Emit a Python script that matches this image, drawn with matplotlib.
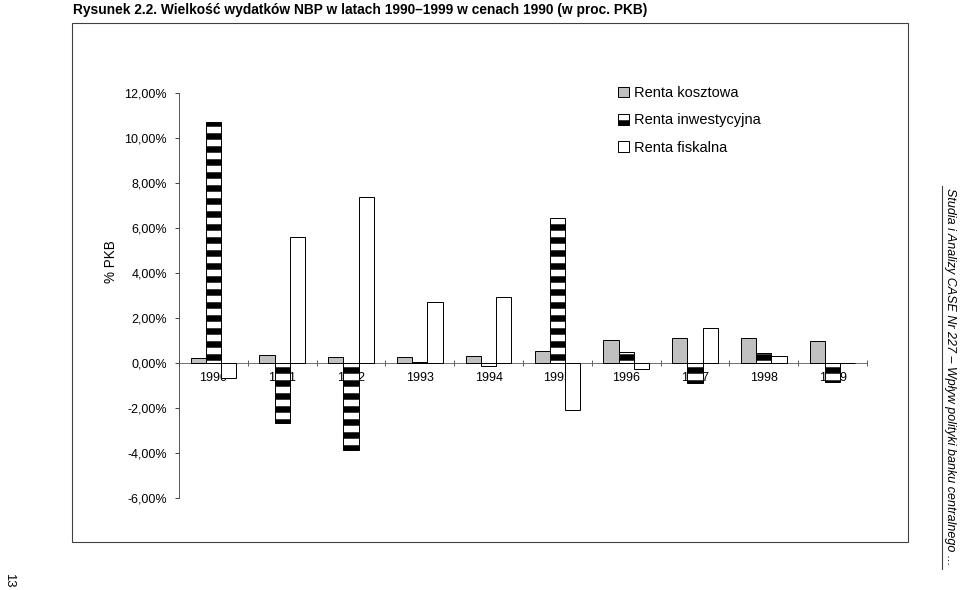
import matplotlib
matplotlib.use("Agg")
import matplotlib.pyplot as plt
from matplotlib import font_manager
from matplotlib.lines import Line2D
from matplotlib.patches import Rectangle
import numpy as np

# dane (% PKB)
lata = ["1990", "1991", "1992", "1993", "1994", "1995", "1996", "1997", "1998", "1999"]
renta_kosztowa = [0.22, 0.37, 0.28, 0.28, 0.32, 0.52, 1.04, 1.11, 1.11, 1.00]
renta_inwestycyjna = [10.69, -2.67, -3.85, 0.03, -0.15, 6.44, 0.49, -0.88, 0.44, -0.85]
renta_fiskalna = [-0.67, 5.58, 7.39, 2.69, 2.93, -2.08, -0.28, 1.56, 0.29, 0.0]
serie = ["Renta kosztowa", "Renta inwestycyjna", "Renta fiskalna"]
y_ticks = [-6, -4, -2, 0, 2, 4, 6, 8, 10, 12]

dostepne = {f.name for f in font_manager.fontManager.ttflist}
waski = "Liberation Sans Narrow" if "Liberation Sans Narrow" in dostepne else "Liberation Sans"

DPI = 78
plt.rcParams["font.family"] = ["Liberation Sans", "DejaVu Sans"]
plt.rcParams["hatch.linewidth"] = 6.0
plt.rcParams["hatch.color"] = "black"

fig = plt.figure(figsize=(960 / DPI, 590 / DPI), dpi=DPI)
ax = fig.add_axes([179 / 960, 1 - 498 / 590, (867 - 179) / 960, (498 - 93) / 590])

x = np.arange(len(lata)) + 0.5
w = 0.22
ax.bar(x - w, renta_kosztowa, w, color="#c0c0c0", edgecolor="black", linewidth=0.9, zorder=3)
ax.bar(x, renta_inwestycyjna, w, color="white", edgecolor="black", hatch="-", linewidth=0.9, zorder=3)
ax.bar(x + w, renta_fiskalna, w, color="white", edgecolor="black", linewidth=0.9, zorder=3)

ax.set_xlim(0, len(lata))
ax.set_ylim(-6, 12)
ax.spines["top"].set_visible(False)
ax.spines["right"].set_visible(False)
ax.spines["bottom"].set_position(("data", 0))
ax.spines["bottom"].set_color("#606060")
ax.spines["left"].set_color("#404040")
ax.patch.set_alpha(0)

ax.set_yticks(y_ticks)
ax.set_yticklabels([f"{v:.2f}%".replace(".", ",") for v in y_ticks], family=waski, fontsize=11.5)
ax.tick_params(axis="y", direction="out", length=4, width=0.9, color="#404040", pad=7)

ax.set_xticks(np.arange(len(lata) + 1))
ax.set_xticklabels([])
ax.tick_params(axis="x", which="major", direction="inout", length=5, width=0.9, color="#606060")
ax.set_xticks(x, minor=True)
ax.set_xticklabels(lata, minor=True, family=waski, fontsize=11.5)
ax.tick_params(axis="x", which="minor", length=0, pad=8)
for t in ax.get_xticklabels(minor=True):
    t.set_zorder(1)

fig.text(111 / 960, 1 - 262 / 590, "% PKB", rotation=90, ha="center", va="center", family=waski, fontsize=12.5)

# legenda
uchwyty = [Rectangle((0, 0), 1, 1, facecolor="#c0c0c0", edgecolor="black", linewidth=0.9),
           Rectangle((0, 0), 1, 1, facecolor="white", edgecolor="black", hatch="-", linewidth=0.9),
           Rectangle((0, 0), 1, 1, facecolor="white", edgecolor="black", linewidth=0.9)]
fig.legend(uchwyty, serie, loc="upper left", bbox_to_anchor=(618 / 960, 1 - 86 / 590), frameon=False,
           fontsize=13.5, handlelength=0.75, handleheight=0.75, handletextpad=0.35, labelspacing=0.92,
           borderpad=0, borderaxespad=0)

# ramka, tytul i opisy strony
fig.add_artist(Rectangle((72 / 960, 1 - 542 / 590), (908 - 72) / 960, (542 - 23) / 590,
                         transform=fig.transFigure, fill=False, edgecolor="#404040", linewidth=1.0))
fig.text(73 / 960, 1 - 14 / 590, "Rysunek 2.2. Wielkość wydatków NBP w latach 1990–1999 w cenach 1990 (w proc. PKB)",
         ha="left", va="baseline", fontsize=12.7, fontweight="bold")
fig.text(950 / 960, 1 - 377 / 590, "Studia i Analizy CASE Nr 227 – Wpływ polityki banku centralnego ...",
         rotation=270, ha="center", va="center", fontsize=11.5, style="italic", family=waski)
fig.add_artist(Line2D([942 / 960, 942 / 960], [1 - 186 / 590, 1 - 569 / 590], transform=fig.transFigure,
                      color="#404040", linewidth=1.0))
fig.text(9 / 960, 1 - 580 / 590, "13", rotation=270, ha="center", va="center", fontsize=12, family=waski)

fig.savefig("out.png", dpi=DPI)
